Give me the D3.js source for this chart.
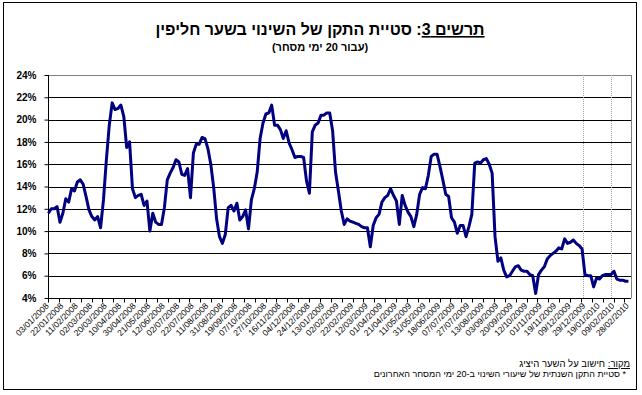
<!DOCTYPE html>
<html><head><meta charset="utf-8">
<script src="https://cdn.jsdelivr.net/npm/d3@7"></script>
<style>
html,body{margin:0;padding:0;background:#fff;}
svg{display:block;font-family:"Liberation Sans",Arial,sans-serif;}
</style></head>
<body><svg id="c" width="642" height="395"></svg>
<script>
// x-axis category labels (every 20 days)
const dateLabels = ["03/01/2008","22/01/2008","11/02/2008","02/03/2008","20/03/2008","10/04/2008","30/04/2008","21/05/2008","12/06/2008","02/07/2008",
"22/07/2008","11/08/2008","31/08/2008","19/09/2008","07/10/2008","27/10/2008","16/11/2008","04/12/2008","24/12/2008","13/01/2009",
"02/02/2009","22/02/2009","12/03/2009","01/04/2009","21/04/2009","11/05/2009","31/05/2009","18/06/2009","07/07/2009","27/07/2009",
"13/08/2009","03/09/2009","20/09/2009","12/10/2009","01/11/2009","19/11/2009","09/12/2009","29/12/2009","19/01/2010","09/02/2010","28/02/2010"];
// standard deviation (%), one reading every 4 days
const vol = [
11.6,12.0,12.0,12.2,10.8,11.6,12.9,12.6,13.8,13.6,
14.4,14.6,14.2,13.1,11.9,11.3,11.0,11.3,10.3,12.8,
16.4,19.5,21.5,20.9,21.0,21.3,20.3,17.5,18.0,13.8,
13.0,13.2,13.3,12.3,12.7,10.0,11.6,10.8,10.6,10.6,
12.1,14.6,15.2,15.7,16.4,16.2,15.1,15.0,15.6,13.0,
17.0,17.8,17.8,18.4,18.3,17.4,16.0,13.9,11.1,9.5,
8.9,9.7,12.1,12.3,11.8,12.5,11.0,11.3,11.9,10.2,
12.8,13.8,15.3,18.3,19.7,20.5,20.6,21.3,19.5,19.5,
19.1,18.3,19.0,17.9,17.3,16.6,16.7,16.7,16.6,14.5,
13.4,18.9,19.5,19.7,20.4,20.4,20.6,20.6,19.0,15.3,
13.6,11.8,10.6,11.1,10.9,10.8,10.7,10.6,10.4,10.3,
10.3,8.6,10.5,11.2,11.5,12.6,13.0,13.2,13.8,13.2,
12.7,10.6,13.2,12.3,11.7,11.3,10.4,11.5,13.3,13.9,
13.8,15.0,16.7,16.9,16.9,15.8,14.6,13.3,13.1,11.2,
10.8,9.8,10.5,10.5,9.5,10.4,11.5,16.1,16.2,16.1,
16.4,16.5,16.0,15.2,9.5,7.3,7.6,6.5,5.9,6.0,
6.4,6.8,6.9,6.5,6.4,6.4,6.1,6.0,4.4,6.1,
6.5,6.8,7.5,7.8,8.0,8.2,8.5,8.4,9.3,8.9,
9.0,9.2,8.9,8.7,8.4,6.1,6.0,6.0,5.0,5.8,
5.7,6.0,6.1,6.1,6.1,6.4,5.7,5.6,5.6,5.5,
5.5];
const yTicks = [4,6,8,10,12,14,16,18,20,22,24];
const markerDays = [738, 776];
const nDays = 804, sampleStep = 4, labelStep = 20, tickStep = 15;
const title = "תרשים 3";
const titleRest = ": סטיית התקן של השינוי בשער חליפין";
const subtitle = "(עבור 20 ימי מסחר)";
const sourceLbl = "מקור:";
const sourceTxt = " חישוב על השער היציג";
const note = "* סטיית התקן השנתית של שיעורי השינוי ב-20 ימי המסחר האחרונים";

const svg = d3.select("#c");
const L = 48, R = 631, T = 75, B = 298;
const x = d3.scaleLinear().domain([0, nDays]).range([L, R]);
const y = d3.scaleLinear().domain([4, 24]).range([B, T]);

// outer frame
svg.append("rect").attr("x",3.5).attr("y",2.5).attr("width",633).attr("height",387)
  .attr("fill","#fff").attr("stroke","#000").attr("stroke-width",1);

// title
const t = svg.append("text").attr("x",320).attr("y",35).attr("text-anchor","middle")
  .attr("direction","rtl").attr("font-size",16).attr("font-weight","bold");
t.append("tspan").style("text-decoration","underline").text(title);
t.append("tspan").text(titleRest);
svg.append("text").attr("x",320).attr("y",51).attr("text-anchor","middle")
  .attr("direction","rtl").attr("font-size",11).attr("font-weight","bold").text(subtitle);

// gridlines
svg.append("g").selectAll("line").data(yTicks.filter(v=>v>4)).join("line")
  .attr("x1",L).attr("x2",R).attr("y1",d=>Math.round(y(d))+0.5).attr("y2",d=>Math.round(y(d))+0.5)
  .attr("stroke",d=>d===24?"#808080":"#000").attr("stroke-width",1);
// right plot border
svg.append("line").attr("x1",R+0.5).attr("x2",R+0.5).attr("y1",T).attr("y2",B)
  .attr("stroke","#808080");

// marker dotted lines
svg.append("g").selectAll("line").data(markerDays).join("line")
  .attr("x1",d=>Math.round(x(d))+0.5).attr("x2",d=>Math.round(x(d))+0.5)
  .attr("y1",T).attr("y2",B).attr("stroke","#a0a0a0").attr("stroke-dasharray","1,1");

// y axis
const ya = svg.append("g").attr("transform",`translate(${L+0.5},0)`)
  .call(d3.axisLeft(y).tickValues(yTicks).tickSize(4).tickFormat(d=>d+"%"));
ya.select(".domain").attr("stroke","#000").attr("d",`M0,${T}V${B}`);
ya.selectAll(".tick line").attr("stroke","#000");
ya.selectAll(".tick text").attr("font-family","Liberation Sans, Arial, sans-serif")
  .attr("font-size",10).attr("font-weight","bold").attr("fill","#000").attr("x",-12);

// x axis line + ticks
const xa = svg.append("g").attr("transform",`translate(0,${Math.round(B)+0.5})`);
xa.append("line").attr("x1",L).attr("x2",R).attr("stroke","#000");
xa.selectAll("line.tk").data(d3.range(0, nDays+1, tickStep)).join("line").attr("class","tk")
  .attr("x1",d=>Math.round(x(d))+0.5).attr("x2",d=>Math.round(x(d))+0.5)
  .attr("y1",0).attr("y2",4).attr("stroke","#000");
xa.selectAll("text").data(dateLabels).join("text")
  .attr("transform",(d,i)=>`translate(${x(i*labelStep+0.5)+1},${8}) rotate(-45)`)
  .attr("text-anchor","end").attr("font-size",8.5).attr("fill","#000").text(d=>d);

// series line
const line = d3.line().x((d,i)=>x(i*sampleStep+0.5)).y(d=>y(d));
svg.append("path").datum(vol).attr("d",line).attr("fill","none")
  .attr("stroke","#000080").attr("stroke-width",3).attr("stroke-linejoin","round");

// footnotes
const f1 = svg.append("text").attr("x",630).attr("y",367).attr("direction","rtl")
  .attr("text-anchor","start").attr("font-size",9.5);
f1.append("tspan").style("text-decoration","underline").text(sourceLbl);
f1.append("tspan").text(sourceTxt);
svg.append("text").attr("x",626).attr("y",377).attr("direction","rtl")
  .attr("text-anchor","start").attr("font-size",9).text(note);
</script></body></html>
